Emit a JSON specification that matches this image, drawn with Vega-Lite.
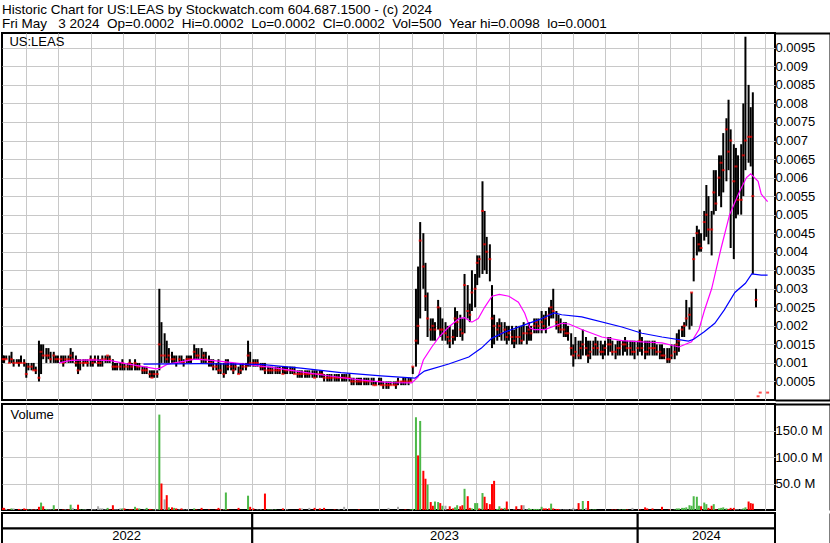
{
"$schema":"https://vega.github.io/schema/vega-lite/v6.json",
"background":"white",
"padding":{"left":0,"top":2,"right":0,"bottom":0},
"spacing":0,
"title":{"text":["Historic Chart for US:LEAS by Stockwatch.com 604.687.1500 - (c) 2024","Fri May\u00a0\u00a0 3 2024\u00a0\u00a0Op=0.0002\u00a0\u00a0Hi=0.0002\u00a0\u00a0Lo=0.0002\u00a0\u00a0Cl=0.0002\u00a0\u00a0Vol=500\u00a0\u00a0Year hi=0.0098\u00a0\u00a0lo=0.0001"],"anchor":"start","frame":"group","offset":1,"fontSize":13.5,"fontWeight":"normal","font":"Liberation Sans","color":"black","lineHeight":14},
"resolve":{"scale":{"color":"independent"}},
"datasets":{
"px":[
{"d":"2022-05-10","h":0.0012,"l":0.0010,"c":0.0011,"v":4,"s":"d"},
{"d":"2022-05-11","h":0.0012,"l":0.0010,"c":0.0011,"v":4,"s":"d"},
{"d":"2022-05-13","h":0.0012,"l":0.0011,"c":0.0011,"v":2,"s":"n"},
{"d":"2022-05-16","h":0.0012,"l":0.0010,"c":0.0010,"v":1,"s":"d"},
{"d":"2022-05-18","h":0.0013,"l":0.0010,"c":0.0011,"v":3,"s":"u"},
{"d":"2022-05-20","h":0.0011,"l":0.0009,"c":0.0010,"v":3,"s":"n"},
{"d":"2022-05-23","h":0.0011,"l":0.0010,"c":0.0010,"v":0,"s":"n"},
{"d":"2022-05-25","h":0.0011,"l":0.0009,"c":0.0010,"v":2,"s":"d"},
{"d":"2022-05-27","h":0.0012,"l":0.0010,"c":0.0010,"v":1,"s":"n"},
{"d":"2022-05-30","h":0.0011,"l":0.0009,"c":0.0010,"v":3,"s":"d"},
{"d":"2022-06-01","h":0.0010,"l":0.0006,"c":0.0007,"v":2,"s":"d"},
{"d":"2022-06-03","h":0.0010,"l":0.0008,"c":0.0009,"v":1,"s":"u"},
{"d":"2022-06-06","h":0.0010,"l":0.0008,"c":0.0009,"v":1,"s":"n"},
{"d":"2022-06-08","h":0.0010,"l":0.0008,"c":0.0008,"v":1,"s":"d"},
{"d":"2022-06-10","h":0.0009,"l":0.0007,"c":0.0008,"v":1,"s":"n"},
{"d":"2022-06-13","h":0.0016,"l":0.0005,"c":0.0006,"v":6,"s":"d"},
{"d":"2022-06-15","h":0.0015,"l":0.0007,"c":0.0013,"v":14,"s":"u"},
{"d":"2022-06-17","h":0.0015,"l":0.0011,"c":0.0012,"v":7,"s":"d"},
{"d":"2022-06-20","h":0.0014,"l":0.0010,"c":0.0012,"v":2,"s":"u"},
{"d":"2022-06-22","h":0.0014,"l":0.0011,"c":0.0012,"v":1,"s":"n"},
{"d":"2022-06-24","h":0.0013,"l":0.0010,"c":0.0011,"v":1,"s":"n"},
{"d":"2022-06-27","h":0.0013,"l":0.0010,"c":0.0012,"v":9,"s":"u"},
{"d":"2022-06-29","h":0.0012,"l":0.0010,"c":0.0011,"v":1,"s":"d"},
{"d":"2022-07-01","h":0.0012,"l":0.0010,"c":0.0011,"v":0,"s":"n"},
{"d":"2022-07-04","h":0.0012,"l":0.0010,"c":0.0011,"v":0,"s":"n"},
{"d":"2022-07-06","h":0.0012,"l":0.0009,"c":0.0010,"v":1,"s":"d"},
{"d":"2022-07-08","h":0.0012,"l":0.0010,"c":0.0011,"v":1,"s":"n"},
{"d":"2022-07-11","h":0.0012,"l":0.0010,"c":0.0011,"v":1,"s":"d"},
{"d":"2022-07-13","h":0.0014,"l":0.0010,"c":0.0012,"v":10,"s":"u"},
{"d":"2022-07-15","h":0.0013,"l":0.0010,"c":0.0011,"v":4,"s":"n"},
{"d":"2022-07-18","h":0.0012,"l":0.0009,"c":0.0010,"v":1,"s":"u"},
{"d":"2022-07-20","h":0.0011,"l":0.0007,"c":0.0008,"v":10,"s":"d"},
{"d":"2022-07-22","h":0.0011,"l":0.0008,"c":0.0010,"v":1,"s":"u"},
{"d":"2022-07-25","h":0.0011,"l":0.0009,"c":0.0010,"v":1,"s":"u"},
{"d":"2022-07-27","h":0.0011,"l":0.0010,"c":0.0010,"v":1,"s":"n"},
{"d":"2022-07-29","h":0.0011,"l":0.0009,"c":0.0010,"v":0,"s":"n"},
{"d":"2022-08-01","h":0.0012,"l":0.0009,"c":0.0011,"v":0,"s":"n"},
{"d":"2022-08-03","h":0.0011,"l":0.0009,"c":0.0010,"v":1,"s":"n"},
{"d":"2022-08-05","h":0.0012,"l":0.0010,"c":0.0011,"v":1,"s":"n"},
{"d":"2022-08-08","h":0.0012,"l":0.0009,"c":0.0010,"v":7,"s":"n"},
{"d":"2022-08-10","h":0.0011,"l":0.0009,"c":0.0010,"v":3,"s":"n"},
{"d":"2022-08-12","h":0.0012,"l":0.0009,"c":0.0011,"v":3,"s":"n"},
{"d":"2022-08-15","h":0.0012,"l":0.0010,"c":0.0011,"v":1,"s":"n"},
{"d":"2022-08-17","h":0.0012,"l":0.0010,"c":0.0012,"v":4,"s":"u"},
{"d":"2022-08-19","h":0.0012,"l":0.0010,"c":0.0011,"v":1,"s":"d"},
{"d":"2022-08-22","h":0.0011,"l":0.0008,"c":0.0009,"v":9,"s":"d"},
{"d":"2022-08-24","h":0.0010,"l":0.0008,"c":0.0009,"v":1,"s":"n"},
{"d":"2022-08-26","h":0.0010,"l":0.0008,"c":0.0009,"v":1,"s":"n"},
{"d":"2022-08-29","h":0.0010,"l":0.0008,"c":0.0009,"v":3,"s":"n"},
{"d":"2022-08-31","h":0.0011,"l":0.0008,"c":0.0010,"v":3,"s":"u"},
{"d":"2022-09-02","h":0.0010,"l":0.0008,"c":0.0009,"v":3,"s":"d"},
{"d":"2022-09-05","h":0.0010,"l":0.0008,"c":0.0009,"v":0,"s":"n"},
{"d":"2022-09-07","h":0.0011,"l":0.0008,"c":0.0010,"v":1,"s":"d"},
{"d":"2022-09-09","h":0.0010,"l":0.0008,"c":0.0009,"v":1,"s":"d"},
{"d":"2022-09-12","h":0.0011,"l":0.0008,"c":0.0010,"v":6,"s":"u"},
{"d":"2022-09-14","h":0.0010,"l":0.0008,"c":0.0009,"v":3,"s":"d"},
{"d":"2022-09-16","h":0.0010,"l":0.0008,"c":0.0009,"v":3,"s":"u"},
{"d":"2022-09-19","h":0.0009,"l":0.0007,"c":0.0008,"v":0,"s":"n"},
{"d":"2022-09-21","h":0.0009,"l":0.0007,"c":0.0008,"v":1,"s":"n"},
{"d":"2022-09-23","h":0.0009,"l":0.0007,"c":0.0008,"v":4,"s":"u"},
{"d":"2022-09-26","h":0.0008,"l":0.0006,"c":0.0007,"v":2,"s":"d"},
{"d":"2022-09-28","h":0.0008,"l":0.0006,"c":0.0006,"v":1,"s":"d"},
{"d":"2022-09-30","h":0.0008,"l":0.0006,"c":0.0007,"v":1,"s":"u"},
{"d":"2022-10-03","h":0.0008,"l":0.0006,"c":0.0007,"v":1,"s":"n"},
{"d":"2022-10-05","h":0.0030,"l":0.0008,"c":0.0015,"v":180,"s":"u"},
{"d":"2022-10-07","h":0.0021,"l":0.0010,"c":0.0012,"v":50,"s":"d"},
{"d":"2022-10-10","h":0.0018,"l":0.0010,"c":0.0012,"v":20,"s":"n"},
{"d":"2022-10-12","h":0.0016,"l":0.0010,"c":0.0011,"v":28,"s":"d"},
{"d":"2022-10-14","h":0.0014,"l":0.0010,"c":0.0012,"v":5,"s":"u"},
{"d":"2022-10-17","h":0.0013,"l":0.0010,"c":0.0011,"v":5,"s":"d"},
{"d":"2022-10-19","h":0.0012,"l":0.0010,"c":0.0011,"v":4,"s":"u"},
{"d":"2022-10-21","h":0.0012,"l":0.0009,"c":0.0010,"v":3,"s":"d"},
{"d":"2022-10-24","h":0.0012,"l":0.0010,"c":0.0011,"v":1,"s":"n"},
{"d":"2022-10-26","h":0.0012,"l":0.0010,"c":0.0010,"v":3,"s":"d"},
{"d":"2022-10-28","h":0.0011,"l":0.0009,"c":0.0010,"v":1,"s":"n"},
{"d":"2022-10-31","h":0.0012,"l":0.0010,"c":0.0011,"v":1,"s":"n"},
{"d":"2022-11-02","h":0.0012,"l":0.0010,"c":0.0011,"v":0,"s":"n"},
{"d":"2022-11-04","h":0.0012,"l":0.0010,"c":0.0011,"v":0,"s":"n"},
{"d":"2022-11-07","h":0.0015,"l":0.0011,"c":0.0013,"v":3,"s":"u"},
{"d":"2022-11-09","h":0.0014,"l":0.0011,"c":0.0012,"v":1,"s":"d"},
{"d":"2022-11-11","h":0.0014,"l":0.0011,"c":0.0012,"v":0,"s":"n"},
{"d":"2022-11-14","h":0.0014,"l":0.0010,"c":0.0011,"v":4,"s":"d"},
{"d":"2022-11-16","h":0.0013,"l":0.0010,"c":0.0012,"v":0,"s":"n"},
{"d":"2022-11-18","h":0.0013,"l":0.0010,"c":0.0011,"v":0,"s":"n"},
{"d":"2022-11-21","h":0.0012,"l":0.0009,"c":0.0010,"v":1,"s":"d"},
{"d":"2022-11-23","h":0.0011,"l":0.0009,"c":0.0010,"v":0,"s":"n"},
{"d":"2022-11-25","h":0.0011,"l":0.0008,"c":0.0009,"v":0,"s":"n"},
{"d":"2022-11-28","h":0.0010,"l":0.0008,"c":0.0009,"v":1,"s":"d"},
{"d":"2022-11-30","h":0.0011,"l":0.0007,"c":0.0008,"v":4,"s":"d"},
{"d":"2022-12-02","h":0.0010,"l":0.0007,"c":0.0008,"v":1,"s":"d"},
{"d":"2022-12-05","h":0.0010,"l":0.0006,"c":0.0007,"v":1,"s":"n"},
{"d":"2022-12-07","h":0.0011,"l":0.0007,"c":0.0010,"v":33,"s":"u"},
{"d":"2022-12-09","h":0.0011,"l":0.0008,"c":0.0009,"v":1,"s":"d"},
{"d":"2022-12-12","h":0.0010,"l":0.0008,"c":0.0009,"v":0,"s":"n"},
{"d":"2022-12-14","h":0.0010,"l":0.0007,"c":0.0008,"v":0,"s":"n"},
{"d":"2022-12-16","h":0.0010,"l":0.0008,"c":0.0009,"v":0,"s":"n"},
{"d":"2022-12-19","h":0.0009,"l":0.0007,"c":0.0007,"v":4,"s":"d"},
{"d":"2022-12-21","h":0.0010,"l":0.0007,"c":0.0008,"v":0,"s":"n"},
{"d":"2022-12-23","h":0.0010,"l":0.0008,"c":0.0009,"v":0,"s":"n"},
{"d":"2022-12-26","h":0.0010,"l":0.0008,"c":0.0009,"v":0,"s":"n"},
{"d":"2022-12-28","h":0.0016,"l":0.0009,"c":0.0012,"v":27,"s":"u"},
{"d":"2022-12-30","h":0.0013,"l":0.0009,"c":0.0010,"v":6,"s":"d"},
{"d":"2023-01-02","h":0.0011,"l":0.0009,"c":0.0010,"v":3,"s":"d"},
{"d":"2023-01-04","h":0.0011,"l":0.0009,"c":0.0010,"v":0,"s":"n"},
{"d":"2023-01-06","h":0.0011,"l":0.0009,"c":0.0010,"v":1,"s":"n"},
{"d":"2023-01-09","h":0.0010,"l":0.0008,"c":0.0009,"v":1,"s":"n"},
{"d":"2023-01-11","h":0.0010,"l":0.0008,"c":0.0009,"v":0,"s":"n"},
{"d":"2023-01-13","h":0.0010,"l":0.0007,"c":0.0008,"v":31,"s":"d"},
{"d":"2023-01-16","h":0.0009,"l":0.0007,"c":0.0008,"v":1,"s":"u"},
{"d":"2023-01-18","h":0.0009,"l":0.0007,"c":0.0008,"v":1,"s":"u"},
{"d":"2023-01-20","h":0.0009,"l":0.0007,"c":0.0008,"v":1,"s":"n"},
{"d":"2023-01-23","h":0.0009,"l":0.0007,"c":0.0008,"v":1,"s":"u"},
{"d":"2023-01-25","h":0.0009,"l":0.0007,"c":0.0008,"v":0,"s":"n"},
{"d":"2023-01-27","h":0.0009,"l":0.0007,"c":0.0008,"v":0,"s":"n"},
{"d":"2023-01-30","h":0.0009,"l":0.0007,"c":0.0007,"v":3,"s":"d"},
{"d":"2023-02-01","h":0.0009,"l":0.0007,"c":0.0008,"v":0,"s":"n"},
{"d":"2023-02-03","h":0.0009,"l":0.0007,"c":0.0008,"v":1,"s":"n"},
{"d":"2023-02-06","h":0.0009,"l":0.0007,"c":0.0008,"v":0,"s":"n"},
{"d":"2023-02-08","h":0.0009,"l":0.0007,"c":0.0008,"v":0,"s":"n"},
{"d":"2023-02-10","h":0.0009,"l":0.0007,"c":0.0007,"v":0,"s":"n"},
{"d":"2023-02-13","h":0.0008,"l":0.0006,"c":0.0007,"v":0,"s":"n"},
{"d":"2023-02-15","h":0.0008,"l":0.0006,"c":0.0007,"v":3,"s":"d"},
{"d":"2023-02-17","h":0.0008,"l":0.0006,"c":0.0007,"v":3,"s":"n"},
{"d":"2023-02-20","h":0.0008,"l":0.0006,"c":0.0007,"v":0,"s":"n"},
{"d":"2023-02-22","h":0.0008,"l":0.0006,"c":0.0007,"v":0,"s":"n"},
{"d":"2023-02-24","h":0.0008,"l":0.0006,"c":0.0007,"v":4,"s":"n"},
{"d":"2023-02-27","h":0.0008,"l":0.0006,"c":0.0007,"v":0,"s":"n"},
{"d":"2023-03-01","h":0.0008,"l":0.0006,"c":0.0006,"v":4,"s":"d"},
{"d":"2023-03-03","h":0.0008,"l":0.0006,"c":0.0007,"v":0,"s":"n"},
{"d":"2023-03-06","h":0.0008,"l":0.0006,"c":0.0007,"v":3,"s":"d"},
{"d":"2023-03-08","h":0.0008,"l":0.0006,"c":0.0007,"v":0,"s":"n"},
{"d":"2023-03-10","h":0.0007,"l":0.0005,"c":0.0006,"v":4,"s":"d"},
{"d":"2023-03-13","h":0.0007,"l":0.0005,"c":0.0006,"v":0,"s":"n"},
{"d":"2023-03-15","h":0.0007,"l":0.0005,"c":0.0006,"v":0,"s":"n"},
{"d":"2023-03-17","h":0.0007,"l":0.0005,"c":0.0006,"v":0,"s":"n"},
{"d":"2023-03-20","h":0.0007,"l":0.0005,"c":0.0006,"v":1,"s":"d"},
{"d":"2023-03-22","h":0.0007,"l":0.0005,"c":0.0006,"v":0,"s":"n"},
{"d":"2023-03-24","h":0.0007,"l":0.0005,"c":0.0006,"v":1,"s":"n"},
{"d":"2023-03-27","h":0.0007,"l":0.0005,"c":0.0006,"v":0,"s":"n"},
{"d":"2023-03-29","h":0.0007,"l":0.0005,"c":0.0006,"v":6,"s":"n"},
{"d":"2023-03-31","h":0.0007,"l":0.0005,"c":0.0006,"v":0,"s":"n"},
{"d":"2023-04-03","h":0.0007,"l":0.0005,"c":0.0006,"v":0,"s":"n"},
{"d":"2023-04-05","h":0.0006,"l":0.0004,"c":0.0005,"v":0,"s":"n"},
{"d":"2023-04-07","h":0.0006,"l":0.0004,"c":0.0005,"v":0,"s":"n"},
{"d":"2023-04-10","h":0.0006,"l":0.0004,"c":0.0005,"v":0,"s":"n"},
{"d":"2023-04-12","h":0.0006,"l":0.0004,"c":0.0005,"v":1,"s":"d"},
{"d":"2023-04-14","h":0.0006,"l":0.0004,"c":0.0005,"v":0,"s":"n"},
{"d":"2023-04-17","h":0.0006,"l":0.0004,"c":0.0005,"v":0,"s":"n"},
{"d":"2023-04-19","h":0.0006,"l":0.0004,"c":0.0005,"v":0,"s":"n"},
{"d":"2023-04-21","h":0.0006,"l":0.0004,"c":0.0005,"v":0,"s":"n"},
{"d":"2023-04-24","h":0.0006,"l":0.0004,"c":0.0005,"v":0,"s":"n"},
{"d":"2023-04-26","h":0.0006,"l":0.0004,"c":0.0004,"v":0,"s":"n"},
{"d":"2023-04-28","h":0.0005,"l":0.0004,"c":0.0004,"v":0,"s":"n"},
{"d":"2023-05-01","h":0.0006,"l":0.0004,"c":0.0005,"v":0,"s":"n"},
{"d":"2023-05-03","h":0.0006,"l":0.0004,"c":0.0004,"v":0,"s":"n"},
{"d":"2023-05-05","h":0.0005,"l":0.0003,"c":0.0004,"v":0,"s":"n"},
{"d":"2023-05-08","h":0.0005,"l":0.0003,"c":0.0004,"v":0,"s":"n"},
{"d":"2023-05-10","h":0.0005,"l":0.0003,"c":0.0004,"v":4,"s":"n"},
{"d":"2023-05-12","h":0.0005,"l":0.0004,"c":0.0004,"v":0,"s":"n"},
{"d":"2023-05-15","h":0.0005,"l":0.0004,"c":0.0004,"v":0,"s":"n"},
{"d":"2023-05-17","h":0.0005,"l":0.0003,"c":0.0004,"v":0,"s":"n"},
{"d":"2023-05-19","h":0.0006,"l":0.0004,"c":0.0005,"v":6,"s":"n"},
{"d":"2023-05-22","h":0.0005,"l":0.0004,"c":0.0005,"v":0,"s":"n"},
{"d":"2023-05-24","h":0.0006,"l":0.0004,"c":0.0005,"v":0,"s":"n"},
{"d":"2023-05-26","h":0.0006,"l":0.0004,"c":0.0005,"v":1,"s":"d"},
{"d":"2023-05-29","h":0.0006,"l":0.0004,"c":0.0005,"v":0,"s":"n"},
{"d":"2023-05-31","h":0.0006,"l":0.0005,"c":0.0005,"v":1,"s":"u"},
{"d":"2023-06-02","h":0.0009,"l":0.0007,"c":0.0009,"v":2,"s":"u"},
{"d":"2023-06-05","h":0.0030,"l":0.0009,"c":0.0016,"v":175,"s":"u"},
{"d":"2023-06-07","h":0.0036,"l":0.0015,"c":0.0020,"v":103,"s":"d"},
{"d":"2023-06-09","h":0.0048,"l":0.0022,"c":0.0043,"v":168,"s":"u"},
{"d":"2023-06-12","h":0.0045,"l":0.0030,"c":0.0036,"v":74,"s":"d"},
{"d":"2023-06-14","h":0.0037,"l":0.0024,"c":0.0028,"v":59,"s":"d"},
{"d":"2023-06-16","h":0.0029,"l":0.0017,"c":0.0022,"v":48,"s":"u"},
{"d":"2023-06-19","h":0.0022,"l":0.0016,"c":0.0019,"v":15,"s":"d"},
{"d":"2023-06-21","h":0.0022,"l":0.0016,"c":0.0020,"v":8,"s":"d"},
{"d":"2023-06-23","h":0.0021,"l":0.0016,"c":0.0019,"v":16,"s":"u"},
{"d":"2023-06-26","h":0.0027,"l":0.0019,"c":0.0025,"v":15,"s":"u"},
{"d":"2023-06-28","h":0.0025,"l":0.0017,"c":0.0019,"v":13,"s":"d"},
{"d":"2023-06-30","h":0.0022,"l":0.0016,"c":0.0019,"v":8,"s":"u"},
{"d":"2023-07-03","h":0.0021,"l":0.0016,"c":0.0018,"v":8,"s":"n"},
{"d":"2023-07-05","h":0.0020,"l":0.0015,"c":0.0017,"v":1,"s":"d"},
{"d":"2023-07-07","h":0.0020,"l":0.0014,"c":0.0016,"v":7,"s":"d"},
{"d":"2023-07-10","h":0.0019,"l":0.0015,"c":0.0017,"v":3,"s":"d"},
{"d":"2023-07-12","h":0.0025,"l":0.0016,"c":0.0022,"v":5,"s":"u"},
{"d":"2023-07-14","h":0.0024,"l":0.0017,"c":0.0021,"v":9,"s":"u"},
{"d":"2023-07-17","h":0.0023,"l":0.0017,"c":0.0019,"v":7,"s":"d"},
{"d":"2023-07-19","h":0.0022,"l":0.0016,"c":0.0018,"v":9,"s":"d"},
{"d":"2023-07-21","h":0.0034,"l":0.0018,"c":0.0031,"v":40,"s":"u"},
{"d":"2023-07-24","h":0.0031,"l":0.0022,"c":0.0024,"v":26,"s":"d"},
{"d":"2023-07-26","h":0.0026,"l":0.0021,"c":0.0023,"v":4,"s":"d"},
{"d":"2023-07-28","h":0.0035,"l":0.0024,"c":0.0029,"v":3,"s":"u"},
{"d":"2023-07-31","h":0.0034,"l":0.0025,"c":0.0030,"v":13,"s":"u"},
{"d":"2023-08-02","h":0.0039,"l":0.0031,"c":0.0037,"v":13,"s":"u"},
{"d":"2023-08-04","h":0.0039,"l":0.0033,"c":0.0038,"v":3,"s":"d"},
{"d":"2023-08-07","h":0.0059,"l":0.0034,"c":0.0051,"v":32,"s":"u"},
{"d":"2023-08-09","h":0.0051,"l":0.0035,"c":0.0042,"v":25,"s":"d"},
{"d":"2023-08-11","h":0.0044,"l":0.0034,"c":0.0040,"v":13,"s":"d"},
{"d":"2023-08-14","h":0.0042,"l":0.0032,"c":0.0038,"v":11,"s":"d"},
{"d":"2023-08-16","h":0.0031,"l":0.0014,"c":0.0022,"v":49,"s":"d"},
{"d":"2023-08-18","h":0.0023,"l":0.0015,"c":0.0020,"v":55,"s":"d"},
{"d":"2023-08-21","h":0.0021,"l":0.0016,"c":0.0019,"v":2,"s":"u"},
{"d":"2023-08-23","h":0.0022,"l":0.0017,"c":0.0020,"v":7,"s":"u"},
{"d":"2023-08-25","h":0.0021,"l":0.0016,"c":0.0018,"v":3,"s":"d"},
{"d":"2023-08-28","h":0.0021,"l":0.0016,"c":0.0019,"v":4,"s":"u"},
{"d":"2023-08-30","h":0.0020,"l":0.0015,"c":0.0017,"v":16,"s":"d"},
{"d":"2023-09-01","h":0.0020,"l":0.0016,"c":0.0018,"v":1,"s":"u"},
{"d":"2023-09-04","h":0.0020,"l":0.0015,"c":0.0017,"v":0,"s":"n"},
{"d":"2023-09-06","h":0.0019,"l":0.0014,"c":0.0016,"v":1,"s":"n"},
{"d":"2023-09-08","h":0.0020,"l":0.0015,"c":0.0017,"v":7,"s":"d"},
{"d":"2023-09-11","h":0.0020,"l":0.0015,"c":0.0017,"v":1,"s":"d"},
{"d":"2023-09-13","h":0.0020,"l":0.0015,"c":0.0016,"v":9,"s":"d"},
{"d":"2023-09-15","h":0.0021,"l":0.0016,"c":0.0018,"v":9,"s":"n"},
{"d":"2023-09-18","h":0.0020,"l":0.0015,"c":0.0018,"v":1,"s":"n"},
{"d":"2023-09-20","h":0.0021,"l":0.0016,"c":0.0019,"v":3,"s":"u"},
{"d":"2023-09-22","h":0.0020,"l":0.0016,"c":0.0018,"v":2,"s":"u"},
{"d":"2023-09-25","h":0.0022,"l":0.0018,"c":0.0020,"v":2,"s":"u"},
{"d":"2023-09-27","h":0.0022,"l":0.0018,"c":0.0021,"v":2,"s":"u"},
{"d":"2023-09-29","h":0.0022,"l":0.0018,"c":0.0020,"v":2,"s":"u"},
{"d":"2023-10-02","h":0.0024,"l":0.0018,"c":0.0021,"v":6,"s":"u"},
{"d":"2023-10-04","h":0.0023,"l":0.0019,"c":0.0020,"v":3,"s":"d"},
{"d":"2023-10-06","h":0.0024,"l":0.0018,"c":0.0022,"v":3,"s":"d"},
{"d":"2023-10-09","h":0.0025,"l":0.0020,"c":0.0023,"v":3,"s":"d"},
{"d":"2023-10-11","h":0.0027,"l":0.0022,"c":0.0025,"v":12,"s":"u"},
{"d":"2023-10-13","h":0.0030,"l":0.0022,"c":0.0024,"v":3,"s":"d"},
{"d":"2023-10-16","h":0.0024,"l":0.0019,"c":0.0021,"v":2,"s":"d"},
{"d":"2023-10-18","h":0.0023,"l":0.0018,"c":0.0020,"v":2,"s":"d"},
{"d":"2023-10-20","h":0.0022,"l":0.0018,"c":0.0019,"v":1,"s":"n"},
{"d":"2023-10-23","h":0.0021,"l":0.0017,"c":0.0019,"v":1,"s":"n"},
{"d":"2023-10-25","h":0.0021,"l":0.0017,"c":0.0018,"v":1,"s":"n"},
{"d":"2023-10-27","h":0.0020,"l":0.0016,"c":0.0018,"v":1,"s":"n"},
{"d":"2023-10-30","h":0.0018,"l":0.0012,"c":0.0014,"v":1,"s":"n"},
{"d":"2023-11-01","h":0.0015,"l":0.0009,"c":0.0012,"v":4,"s":"n"},
{"d":"2023-11-03","h":0.0017,"l":0.0011,"c":0.0013,"v":1,"s":"n"},
{"d":"2023-11-06","h":0.0016,"l":0.0011,"c":0.0012,"v":13,"s":"d"},
{"d":"2023-11-08","h":0.0016,"l":0.0011,"c":0.0014,"v":1,"s":"n"},
{"d":"2023-11-10","h":0.0019,"l":0.0012,"c":0.0015,"v":17,"s":"u"},
{"d":"2023-11-13","h":0.0017,"l":0.0012,"c":0.0014,"v":4,"s":"n"},
{"d":"2023-11-15","h":0.0016,"l":0.0010,"c":0.0012,"v":17,"s":"d"},
{"d":"2023-11-17","h":0.0016,"l":0.0011,"c":0.0013,"v":1,"s":"u"},
{"d":"2023-11-20","h":0.0016,"l":0.0012,"c":0.0014,"v":1,"s":"u"},
{"d":"2023-11-22","h":0.0017,"l":0.0012,"c":0.0015,"v":1,"s":"u"},
{"d":"2023-11-24","h":0.0016,"l":0.0012,"c":0.0014,"v":0,"s":"n"},
{"d":"2023-11-27","h":0.0016,"l":0.0012,"c":0.0013,"v":0,"s":"n"},
{"d":"2023-11-29","h":0.0015,"l":0.0011,"c":0.0013,"v":0,"s":"n"},
{"d":"2023-12-01","h":0.0016,"l":0.0012,"c":0.0014,"v":0,"s":"n"},
{"d":"2023-12-04","h":0.0017,"l":0.0012,"c":0.0015,"v":0,"s":"n"},
{"d":"2023-12-06","h":0.0017,"l":0.0013,"c":0.0015,"v":0,"s":"n"},
{"d":"2023-12-08","h":0.0016,"l":0.0012,"c":0.0013,"v":1,"s":"d"},
{"d":"2023-12-11","h":0.0015,"l":0.0011,"c":0.0013,"v":1,"s":"d"},
{"d":"2023-12-13","h":0.0016,"l":0.0012,"c":0.0014,"v":0,"s":"n"},
{"d":"2023-12-15","h":0.0016,"l":0.0012,"c":0.0014,"v":1,"s":"u"},
{"d":"2023-12-18","h":0.0016,"l":0.0012,"c":0.0015,"v":1,"s":"u"},
{"d":"2023-12-20","h":0.0017,"l":0.0013,"c":0.0015,"v":1,"s":"u"},
{"d":"2023-12-22","h":0.0016,"l":0.0012,"c":0.0014,"v":1,"s":"d"},
{"d":"2023-12-25","h":0.0016,"l":0.0012,"c":0.0014,"v":0,"s":"n"},
{"d":"2023-12-27","h":0.0016,"l":0.0012,"c":0.0013,"v":4,"s":"n"},
{"d":"2023-12-29","h":0.0016,"l":0.0011,"c":0.0013,"v":0,"s":"n"},
{"d":"2024-01-01","h":0.0016,"l":0.0012,"c":0.0014,"v":0,"s":"n"},
{"d":"2024-01-03","h":0.0019,"l":0.0013,"c":0.0016,"v":1,"s":"d"},
{"d":"2024-01-05","h":0.0017,"l":0.0012,"c":0.0014,"v":0,"s":"n"},
{"d":"2024-01-08","h":0.0016,"l":0.0011,"c":0.0013,"v":5,"s":"d"},
{"d":"2024-01-10","h":0.0016,"l":0.0012,"c":0.0013,"v":3,"s":"d"},
{"d":"2024-01-12","h":0.0016,"l":0.0012,"c":0.0014,"v":0,"s":"n"},
{"d":"2024-01-15","h":0.0016,"l":0.0012,"c":0.0014,"v":3,"s":"d"},
{"d":"2024-01-17","h":0.0016,"l":0.0012,"c":0.0014,"v":0,"s":"n"},
{"d":"2024-01-19","h":0.0015,"l":0.0012,"c":0.0013,"v":0,"s":"n"},
{"d":"2024-01-22","h":0.0015,"l":0.0011,"c":0.0013,"v":0,"s":"n"},
{"d":"2024-01-24","h":0.0015,"l":0.0011,"c":0.0012,"v":6,"s":"d"},
{"d":"2024-01-26","h":0.0014,"l":0.0011,"c":0.0012,"v":0,"s":"n"},
{"d":"2024-01-29","h":0.0014,"l":0.0010,"c":0.0011,"v":0,"s":"n"},
{"d":"2024-01-31","h":0.0014,"l":0.0010,"c":0.0011,"v":1,"s":"d"},
{"d":"2024-02-02","h":0.0015,"l":0.0011,"c":0.0012,"v":0,"s":"n"},
{"d":"2024-02-05","h":0.0015,"l":0.0011,"c":0.0013,"v":1,"s":"u"},
{"d":"2024-02-07","h":0.0018,"l":0.0012,"c":0.0015,"v":3,"s":"u"},
{"d":"2024-02-09","h":0.0019,"l":0.0013,"c":0.0016,"v":3,"s":"u"},
{"d":"2024-02-12","h":0.0020,"l":0.0017,"c":0.0019,"v":4,"s":"u"},
{"d":"2024-02-14","h":0.0021,"l":0.0017,"c":0.0020,"v":4,"s":"u"},
{"d":"2024-02-16","h":0.0027,"l":0.0020,"c":0.0022,"v":5,"s":"u"},
{"d":"2024-02-19","h":0.0025,"l":0.0019,"c":0.0023,"v":9,"s":"u"},
{"d":"2024-02-21","h":0.0029,"l":0.0020,"c":0.0029,"v":8,"s":"u"},
{"d":"2024-02-23","h":0.0044,"l":0.0032,"c":0.0038,"v":26,"s":"u"},
{"d":"2024-02-26","h":0.0047,"l":0.0039,"c":0.0045,"v":25,"s":"u"},
{"d":"2024-02-28","h":0.0046,"l":0.0040,"c":0.0042,"v":8,"s":"u"},
{"d":"2024-03-01","h":0.0045,"l":0.0040,"c":0.0041,"v":7,"s":"d"},
{"d":"2024-03-04","h":0.0051,"l":0.0043,"c":0.0048,"v":14,"s":"u"},
{"d":"2024-03-06","h":0.0058,"l":0.0044,"c":0.0050,"v":11,"s":"u"},
{"d":"2024-03-08","h":0.0055,"l":0.0042,"c":0.0046,"v":4,"s":"d"},
{"d":"2024-03-11","h":0.0051,"l":0.0039,"c":0.0046,"v":8,"s":"d"},
{"d":"2024-03-13","h":0.0062,"l":0.0050,"c":0.0056,"v":11,"s":"u"},
{"d":"2024-03-15","h":0.0062,"l":0.0051,"c":0.0053,"v":1,"s":"d"},
{"d":"2024-03-18","h":0.0066,"l":0.0055,"c":0.0060,"v":3,"s":"u"},
{"d":"2024-03-20","h":0.0066,"l":0.0052,"c":0.0064,"v":4,"s":"u"},
{"d":"2024-03-22","h":0.0072,"l":0.0056,"c":0.0062,"v":5,"s":"u"},
{"d":"2024-03-25","h":0.0076,"l":0.0059,"c":0.0073,"v":3,"s":"u"},
{"d":"2024-03-27","h":0.0081,"l":0.0062,"c":0.0067,"v":2,"s":"d"},
{"d":"2024-03-29","h":0.0073,"l":0.0041,"c":0.0070,"v":4,"s":"d"},
{"d":"2024-04-01","h":0.0069,"l":0.0038,"c":0.0059,"v":4,"s":"d"},
{"d":"2024-04-03","h":0.0068,"l":0.0049,"c":0.0063,"v":1,"s":"n"},
{"d":"2024-04-05","h":0.0066,"l":0.0050,"c":0.0054,"v":1,"s":"n"},
{"d":"2024-04-08","h":0.0069,"l":0.0050,"c":0.0054,"v":1,"s":"n"},
{"d":"2024-04-10","h":0.0080,"l":0.0055,"c":0.0066,"v":3,"s":"u"},
{"d":"2024-04-12","h":0.0098,"l":0.0062,"c":0.0070,"v":5,"s":"u"},
{"d":"2024-04-15","h":0.0085,"l":0.0064,"c":0.0071,"v":16,"s":"d"},
{"d":"2024-04-17","h":0.0079,"l":0.0063,"c":0.0071,"v":13,"s":"d"},
{"d":"2024-04-19","h":0.0083,"l":0.0034,"c":0.0055,"v":12,"s":"d"},
{"d":"2024-04-22","h":0.0030,"l":0.0025,"c":0.0027,"v":0,"s":"n"},
{"d":"2024-04-24","h":0.0001,"l":0.0001,"c":0.0001,"v":0,"s":"n"},
{"d":"2024-04-26","h":0.0002,"l":0.0002,"c":0.0002,"v":0,"s":"n"},
{"d":"2024-05-03","h":0.0002,"l":0.0002,"c":0.0002,"v":0.0005,"s":"n"}
],
"ma":[
{"d":"2022-07-02","v":0.00100,"s":"m"},{"d":"2022-07-13","v":0.00107,"s":"m"},{"d":"2022-08-01","v":0.00108,"s":"m"},{"d":"2022-08-20","v":0.00106,"s":"m"},{"d":"2022-09-03","v":0.00098,"s":"m"},{"d":"2022-09-20","v":0.00090,"s":"m"},{"d":"2022-10-02","v":0.00084,"s":"m"},{"d":"2022-10-06","v":0.00086,"s":"m"},{"d":"2022-10-13","v":0.00097,"s":"m"},{"d":"2022-10-25","v":0.00103,"s":"m"},{"d":"2022-11-08","v":0.00110,"s":"m"},{"d":"2022-11-23","v":0.00107,"s":"m"},{"d":"2022-12-07","v":0.00103,"s":"m"},{"d":"2022-12-21","v":0.00098,"s":"m"},{"d":"2023-01-04","v":0.00093,"s":"m"},{"d":"2023-01-19","v":0.00088,"s":"m"},{"d":"2023-02-07","v":0.00080,"s":"m"},{"d":"2023-02-26","v":0.00072,"s":"m"},{"d":"2023-03-17","v":0.00064,"s":"m"},{"d":"2023-04-05","v":0.00057,"s":"m"},{"d":"2023-04-24","v":0.00051,"s":"m"},{"d":"2023-05-13","v":0.00047,"s":"m"},{"d":"2023-06-01","v":0.00046,"s":"m"},{"d":"2023-06-07","v":0.00062,"s":"m"},{"d":"2023-06-12","v":0.00108,"s":"m"},{"d":"2023-06-20","v":0.00143,"s":"m"},{"d":"2023-06-27","v":0.00170,"s":"m"},{"d":"2023-07-06","v":0.00197,"s":"m"},{"d":"2023-07-16","v":0.00220,"s":"m"},{"d":"2023-07-21","v":0.00222,"s":"m"},{"d":"2023-07-28","v":0.00210,"s":"m"},{"d":"2023-08-03","v":0.00220,"s":"m"},{"d":"2023-08-09","v":0.00250,"s":"m"},{"d":"2023-08-16","v":0.00280,"s":"m"},{"d":"2023-08-23","v":0.00285,"s":"m"},{"d":"2023-09-01","v":0.00280,"s":"m"},{"d":"2023-09-10","v":0.00264,"s":"m"},{"d":"2023-09-16","v":0.00234,"s":"m"},{"d":"2023-09-21","v":0.00194,"s":"m"},{"d":"2023-09-25","v":0.00190,"s":"m"},{"d":"2023-10-05","v":0.00190,"s":"m"},{"d":"2023-10-21","v":0.00207,"s":"m"},{"d":"2023-10-28","v":0.00205,"s":"m"},{"d":"2023-11-09","v":0.00190,"s":"m"},{"d":"2023-11-28","v":0.00170,"s":"m"},{"d":"2023-12-17","v":0.00160,"s":"m"},{"d":"2024-01-05","v":0.00157,"s":"m"},{"d":"2024-01-24","v":0.00154,"s":"m"},{"d":"2024-02-09","v":0.00143,"s":"m"},{"d":"2024-02-21","v":0.00157,"s":"m"},{"d":"2024-02-28","v":0.00190,"s":"m"},{"d":"2024-03-04","v":0.00240,"s":"m"},{"d":"2024-03-11","v":0.00300,"s":"m"},{"d":"2024-03-20","v":0.00410,"s":"m"},{"d":"2024-03-28","v":0.00500,"s":"m"},{"d":"2024-04-06","v":0.00560,"s":"m"},{"d":"2024-04-13","v":0.00600,"s":"m"},{"d":"2024-04-17","v":0.00610,"s":"m"},{"d":"2024-04-24","v":0.00590,"s":"m"},{"d":"2024-04-27","v":0.00555,"s":"m"},{"d":"2024-05-03","v":0.00535,"s":"m"},
{"d":"2022-09-20","v":0.00097,"s":"b"},{"d":"2022-11-13","v":0.00098,"s":"b"},{"d":"2023-01-09","v":0.00096,"s":"b"},{"d":"2023-02-16","v":0.00086,"s":"b"},{"d":"2023-03-26","v":0.00074,"s":"b"},{"d":"2023-05-03","v":0.00065,"s":"b"},{"d":"2023-06-04","v":0.00059,"s":"b"},{"d":"2023-06-13","v":0.00078,"s":"b"},{"d":"2023-07-06","v":0.00097,"s":"b"},{"d":"2023-07-25","v":0.00116,"s":"b"},{"d":"2023-08-06","v":0.00140,"s":"b"},{"d":"2023-08-16","v":0.00167,"s":"b"},{"d":"2023-08-28","v":0.00183,"s":"b"},{"d":"2023-09-13","v":0.00200,"s":"b"},{"d":"2023-09-29","v":0.00216,"s":"b"},{"d":"2023-10-14","v":0.00235,"s":"b"},{"d":"2023-10-21","v":0.00230,"s":"b"},{"d":"2023-11-09","v":0.00224,"s":"b"},{"d":"2023-12-17","v":0.00197,"s":"b"},{"d":"2024-01-05","v":0.00180,"s":"b"},{"d":"2024-01-24","v":0.00170,"s":"b"},{"d":"2024-02-18","v":0.00159,"s":"b"},{"d":"2024-02-23","v":0.00164,"s":"b"},{"d":"2024-03-04","v":0.00184,"s":"b"},{"d":"2024-03-14","v":0.00207,"s":"b"},{"d":"2024-03-23","v":0.00243,"s":"b"},{"d":"2024-04-02","v":0.00290,"s":"b"},{"d":"2024-04-12","v":0.00315,"s":"b"},{"d":"2024-04-18","v":0.00340,"s":"b"},{"d":"2024-04-27","v":0.00337,"s":"b"},{"d":"2024-05-03","v":0.00337,"s":"b"}
],
"yr":[
{"a":"2022-05-09","b":"2023-01-01","y0":1,"y1":2,"m":"2022-09-04","ym":1.5,"t":""},
{"a":"2023-01-01","b":"2024-01-01","y0":1,"y1":2,"m":"2023-07-02","ym":1.5,"t":""},
{"a":"2024-01-01","b":"2024-05-10","y0":1,"y1":2,"m":"2024-03-06","ym":1.5,"t":""},
{"a":"2022-05-09","b":"2023-01-01","y0":0,"y1":1,"m":"2022-09-04","ym":0.5,"t":"2022"},
{"a":"2023-01-01","b":"2024-01-01","y0":0,"y1":1,"m":"2023-07-02","ym":0.5,"t":"2023"},
{"a":"2024-01-01","b":"2024-05-10","y0":0,"y1":1,"m":"2024-03-06","ym":0.5,"t":"2024"}
],
"lbl":[{"p":"US:LEAS","d":"2022-05-16","y":0.00955}],
"vlbl":[{"p":"Volume","d":"2022-05-17","y":171}]
},
"vconcat":[
{
"width":773,"height":367,
"layer":[
{"data":{"name":"px"},"mark":{"type":"rule","color":"black","strokeWidth":2},
"encoding":{
"x":{"field":"d","type":"temporal","scale":{"type":"utc","padding":0,"domain":[{"year":2022,"month":5,"date":9,"utc":true},{"year":2024,"month":5,"date":10,"utc":true}]},"axis":{"grid":true,"gridColor":"#c8c8c8","labels":false,"ticks":false,"domain":false,"title":null,"tickCount":{"interval":"month","step":1}}},
"y":{"field":"l","type":"quantitative","scale":{"domain":[0,0.0099],"nice":false,"zero":false,"padding":0},"axis":{"orient":"right","values":[0.0005,0.001,0.0015,0.002,0.0025,0.003,0.0035,0.004,0.0045,0.005,0.0055,0.006,0.0065,0.007,0.0075,0.008,0.0085,0.009,0.0095],"format":"~g","ticks":false,"domain":false,"grid":true,"labelPadding":0,"title":null}},
"y2":{"field":"h"}}},
{"data":{"name":"px"},"mark":{"type":"tick","orient":"horizontal","color":"#ff0000","thickness":2,"size":3},
"encoding":{
"x":{"field":"d","type":"temporal","scale":{"type":"utc","padding":0,"domain":[{"year":2022,"month":5,"date":9,"utc":true},{"year":2024,"month":5,"date":10,"utc":true}]},"axis":{"grid":true,"gridColor":"#c8c8c8","labels":false,"ticks":false,"domain":false,"title":null,"tickCount":{"interval":"month","step":1}}},
"y":{"field":"c","type":"quantitative","axis":null}}},
{"data":{"name":"ma"},"mark":{"type":"line","strokeWidth":1.2},
"encoding":{
"x":{"field":"d","type":"temporal","scale":{"type":"utc","padding":0,"domain":[{"year":2022,"month":5,"date":9,"utc":true},{"year":2024,"month":5,"date":10,"utc":true}]},"axis":{"grid":true,"gridColor":"#c8c8c8","labels":false,"ticks":false,"domain":false,"title":null,"tickCount":{"interval":"month","step":1}}},
"y":{"field":"v","type":"quantitative","axis":null},
"color":{"field":"s","type":"nominal","scale":{"domain":["m","b"],"range":["#ff00ff","#0000ff"]},"legend":null}}},
{"data":{"name":"lbl"},"mark":{"type":"text","align":"left","baseline":"alphabetic","font":"Liberation Sans","fontSize":13,"color":"black"},
"encoding":{
"x":{"field":"d","type":"temporal","scale":{"type":"utc","padding":0,"domain":[{"year":2022,"month":5,"date":9,"utc":true},{"year":2024,"month":5,"date":10,"utc":true}]},"axis":{"grid":true,"gridColor":"#c8c8c8","labels":false,"ticks":false,"domain":false,"title":null,"tickCount":{"interval":"month","step":1}}},
"y":{"field":"y","type":"quantitative","axis":null},
"text":{"field":"p"}}},
{"data":{"values":[{"f":0.005}]},"mark":{"type":"point","opacity":0,"size":0},
"encoding":{"y":{"field":"f","type":"quantitative","axis":{"orient":"right","values":[0,0.0099],"ticks":true,"tickSize":56,"tickWidth":2,"tickColor":"black","labels":false,"domain":false,"grid":false,"title":null}}}},
{"data":{"values":[{"f":0.005}]},"mark":{"type":"point","opacity":0,"size":0},
"encoding":{"y":{"field":"f","type":"quantitative","axis":{"orient":"right","offset":55,"domain":true,"domainWidth":2,"domainColor":"black","ticks":false,"labels":false,"grid":false,"title":null}}}}
],
"resolve":{"axis":{"y":"independent"}}
},
{
"width":773,"height":106,
"layer":[
{"data":{"name":"px"},"mark":{"type":"bar","width":2},
"encoding":{
"x":{"field":"d","type":"temporal","scale":{"type":"utc","padding":0,"domain":[{"year":2022,"month":5,"date":9,"utc":true},{"year":2024,"month":5,"date":10,"utc":true}]},"axis":{"grid":true,"gridColor":"#c8c8c8","labels":false,"ticks":false,"domain":false,"title":null,"tickCount":{"interval":"month","step":1}}},
"y":{"field":"v","type":"quantitative","scale":{"domain":[0,200],"nice":false,"padding":0},"axis":{"orient":"right","values":[50,100,150],"labelExpr":"format(datum.value,'.1f') + ' M'","ticks":false,"domain":false,"grid":true,"labelPadding":0,"title":null}},
"color":{"field":"s","type":"nominal","scale":{"domain":["u","d","n"],"range":["#4cb848","#ff0000","#a9a9a9"]},"legend":null}}},
{"data":{"name":"vlbl"},"mark":{"type":"text","align":"left","baseline":"alphabetic","font":"Liberation Sans","fontSize":13,"color":"black"},
"encoding":{
"x":{"field":"d","type":"temporal","scale":{"type":"utc","padding":0,"domain":[{"year":2022,"month":5,"date":9,"utc":true},{"year":2024,"month":5,"date":10,"utc":true}]},"axis":{"grid":true,"gridColor":"#c8c8c8","labels":false,"ticks":false,"domain":false,"title":null,"tickCount":{"interval":"month","step":1}}},
"y":{"field":"y","type":"quantitative","axis":null},
"text":{"field":"p"}}},
{"data":{"values":[{"f":100}]},"mark":{"type":"point","opacity":0,"size":0},
"encoding":{"y":{"field":"f","type":"quantitative","axis":{"orient":"right","values":[200],"ticks":true,"tickSize":56,"tickWidth":2,"tickColor":"black","labels":false,"domain":false,"grid":false,"title":null}}}},
{"data":{"values":[{"f":100}]},"mark":{"type":"point","opacity":0,"size":0},
"encoding":{"y":{"field":"f","type":"quantitative","axis":{"orient":"right","offset":55,"domain":true,"domainWidth":2,"domainColor":"black","ticks":false,"labels":false,"grid":false,"title":null}}}}
],
"resolve":{"axis":{"y":"independent"}}
},
{
"width":773,"height":31,
"layer":[
{"data":{"name":"yr"},"mark":{"type":"rect","fill":"white","stroke":"black","strokeWidth":2},
"encoding":{
"x":{"field":"a","type":"temporal","scale":{"type":"utc","padding":0,"domain":[{"year":2022,"month":5,"date":9,"utc":true},{"year":2024,"month":5,"date":10,"utc":true}]},"axis":null},
"x2":{"field":"b"},
"y":{"field":"y0","type":"quantitative","scale":{"domain":[0,2],"nice":false,"padding":0},"axis":null},
"y2":{"field":"y1"}}},
{"data":{"name":"yr"},"mark":{"type":"text","font":"Liberation Sans","fontSize":13,"color":"black","baseline":"middle","align":"center"},
"encoding":{
"x":{"field":"m","type":"temporal","axis":null},
"y":{"field":"ym","type":"quantitative","axis":null},
"text":{"field":"t"}}},
{"data":{"values":[{"f":1}]},"mark":{"type":"point","opacity":0,"size":0},
"encoding":{"y":{"field":"f","type":"quantitative","axis":{"orient":"right","values":[0],"ticks":true,"tickSize":56,"tickWidth":2,"tickColor":"black","labels":false,"domain":false,"grid":false,"title":null}}}},
{"data":{"values":[{"f":1}]},"mark":{"type":"point","opacity":0,"size":0},
"encoding":{"y":{"field":"f","type":"quantitative","axis":{"orient":"right","offset":55,"domain":true,"domainWidth":2,"domainColor":"black","ticks":false,"labels":false,"grid":false,"title":null}}}}
],
"resolve":{"axis":{"y":"independent"}}
}
],
"config":{
"view":{"stroke":"black","strokeWidth":2},
"axis":{"labelFont":"Liberation Sans","labelFontSize":13,"labelColor":"black","gridColor":"#c8c8c8","gridWidth":1,"labelFlush":false,"labelOverlap":false},
"title":{"font":"Liberation Sans"}
}
}
